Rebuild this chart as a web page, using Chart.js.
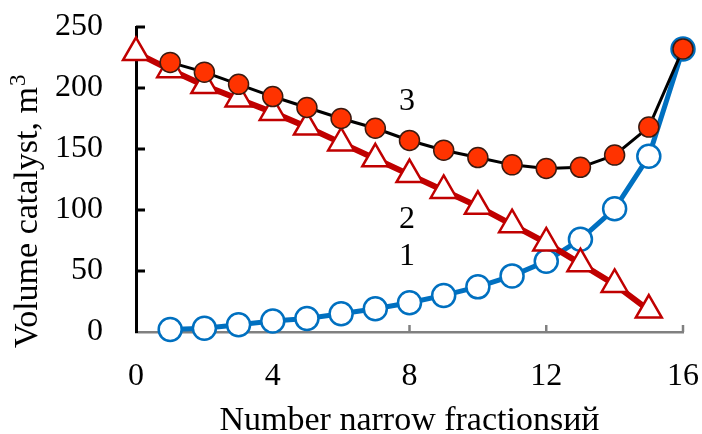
<!DOCTYPE html>
<html>
<head>
<meta charset="utf-8">
<script src="https://cdn.jsdelivr.net/npm/chart.js@4.4.1/dist/chart.umd.min.js"></script>
<style>
  html, body { margin: 0; padding: 0; background: #fff; }
  #wrap { width: 702px; height: 434px; }
</style>
</head>
<body>
<div id="wrap"><canvas id="volume_chart"></canvas></div>
<script>
// fraction numbers for each curve
const fractions1 = [1, 2, 3, 4, 5, 6, 7, 8, 9, 10, 11, 12, 13, 14, 15, 16];
const fractions2 = [0, 1, 2, 3, 4, 5, 6, 7, 8, 9, 10, 11, 12, 13, 14, 15];
const fractions3 = [1, 2, 3, 4, 5, 6, 7, 8, 9, 10, 11, 12, 13, 14, 15, 16];

// catalyst volume, m3
const volume1 = [2, 3, 6, 9, 11, 15, 19, 24, 30, 37, 46, 58, 76, 101, 144, 232];
const volume2 = [229, 215, 202, 191, 180, 168, 155, 142, 129, 116, 103, 88, 73, 56, 39, 18];
const volume3 = [221, 213, 203, 193, 184, 175, 167, 157, 149, 143, 137, 134, 135, 145, 168, 232];

// curve numbers written next to the lines
const curveLabels = [
  { text: "3", x: 7.93, y: 189 },
  { text: "2", x: 7.93, y: 92 },
  { text: "1", x: 7.93, y: 62 },
];

const SERIF = "'Liberation Serif', 'Times New Roman', serif";

const toPoints = (xs, ys) => xs.map((x, i) => ({ x: x, y: ys[i] }));

// inward ticks, curve numbers and the y title with a raised "3"
const decorations = {
  id: "decorations",
  beforeDatasetsDraw(chart) {
    const { ctx, scales: { x, y } } = chart;
    ctx.save();
    ctx.strokeStyle = "#000";
    ctx.lineWidth = 3;
    y.ticks.forEach((t) => {
      if (t.value === 0) return;
      const py = y.getPixelForValue(t.value);
      ctx.beginPath();
      ctx.moveTo(x.left, py);
      ctx.lineTo(x.left + 9, py);
      ctx.stroke();
    });
    ctx.strokeStyle = "#808080";
    ctx.lineWidth = 2.5;
    x.ticks.forEach((t) => {
      if (t.value === 0) return;
      const px = x.getPixelForValue(t.value);
      ctx.beginPath();
      ctx.moveTo(px, y.bottom);
      ctx.lineTo(px, y.bottom - 7);
      ctx.stroke();
    });
    ctx.restore();
  },
  afterDatasetsDraw(chart) {
    const { ctx, scales: { x, y } } = chart;
    ctx.save();
    ctx.fillStyle = "#000";
    ctx.font = "32px " + SERIF;
    ctx.textAlign = "center";
    ctx.textBaseline = "middle";
    curveLabels.forEach((l) => {
      ctx.fillText(l.text, x.getPixelForValue(l.x), y.getPixelForValue(l.y));
    });
    ctx.restore();

    // y axis title
    ctx.save();
    ctx.translate(37, y.bottom + 16);
    ctx.rotate(-Math.PI / 2);
    ctx.fillStyle = "#000";
    ctx.textAlign = "left";
    ctx.textBaseline = "alphabetic";
    ctx.font = "34px " + SERIF;
    const main = "Volume catalyst, m";
    ctx.fillText(main, 0, 0);
    const w = ctx.measureText(main).width;
    ctx.font = "23px " + SERIF;
    ctx.fillText("3", w + 1, -12);
    ctx.restore();
  },
};

new Chart(document.getElementById("volume_chart"), {
  type: "line",
  data: {
    datasets: [
      {
        label: "1",
        data: toPoints(fractions1, volume1),
        borderColor: "#0070C0",
        borderWidth: 5,
        pointStyle: "circle",
        pointRadius: 11.5,
        pointBorderWidth: 2.5,
        pointBackgroundColor: "#fff",
        pointBorderColor: "#0070C0",
        tension: 0,
        clip: false,
        order: 3,
      },
      {
        label: "2",
        data: toPoints(fractions2, volume2),
        borderColor: "#C00000",
        borderWidth: 6,
        pointStyle: "triangle",
        pointRadius: 15,
        pointBorderWidth: 2.5,
        pointBackgroundColor: "#fff",
        pointBorderColor: "#C00000",
        tension: 0,
        clip: false,
        order: 2,
      },
      {
        label: "3",
        data: toPoints(fractions3, volume3),
        borderColor: "#000",
        borderWidth: 3,
        pointStyle: "circle",
        pointRadius: 10,
        pointBorderWidth: 1.5,
        pointBackgroundColor: "#FF3300",
        pointBorderColor: "#3a1a10",
        tension: 0,
        clip: false,
        order: 1,
      },
    ],
  },
  options: {
    responsive: true,
    maintainAspectRatio: false,
    animation: false,
    layout: { padding: { top: 27, right: 19, bottom: 0, left: 0 } },
    plugins: {
      legend: { display: false },
      tooltip: { enabled: false },
    },
    scales: {
      x: {
        type: "linear",
        min: 0,
        max: 16,
        ticks: {
          stepSize: 4,
          padding: 25,
          color: "#000",
          font: { family: SERIF, size: 32 },
        },
        grid: { display: false, drawTicks: false },
        border: { display: true, color: "#808080", width: 2.5 },
        title: {
          display: true,
          text: "Number narrow fractionsий",
          color: "#000",
          font: { family: SERIF, size: 34, lineHeight: 1 },
          padding: { top: 0, bottom: -4 },
        },
        afterFit(scale) {
          scale.height = 102;
          scale.paddingLeft = 0;
          scale.paddingRight = 0;
        },
      },
      y: {
        min: 0,
        max: 250,
        ticks: {
          stepSize: 50,
          padding: 33,
          color: "#000",
          font: { family: SERIF, size: 32 },
        },
        grid: { display: false, drawTicks: false },
        border: { display: true, color: "#000", width: 3 },
        afterFit(scale) {
          scale.width = 136;
          scale.paddingTop = 0;
          scale.paddingBottom = 0;
        },
      },
    },
  },
  plugins: [decorations],
});
</script>
</body>
</html>
